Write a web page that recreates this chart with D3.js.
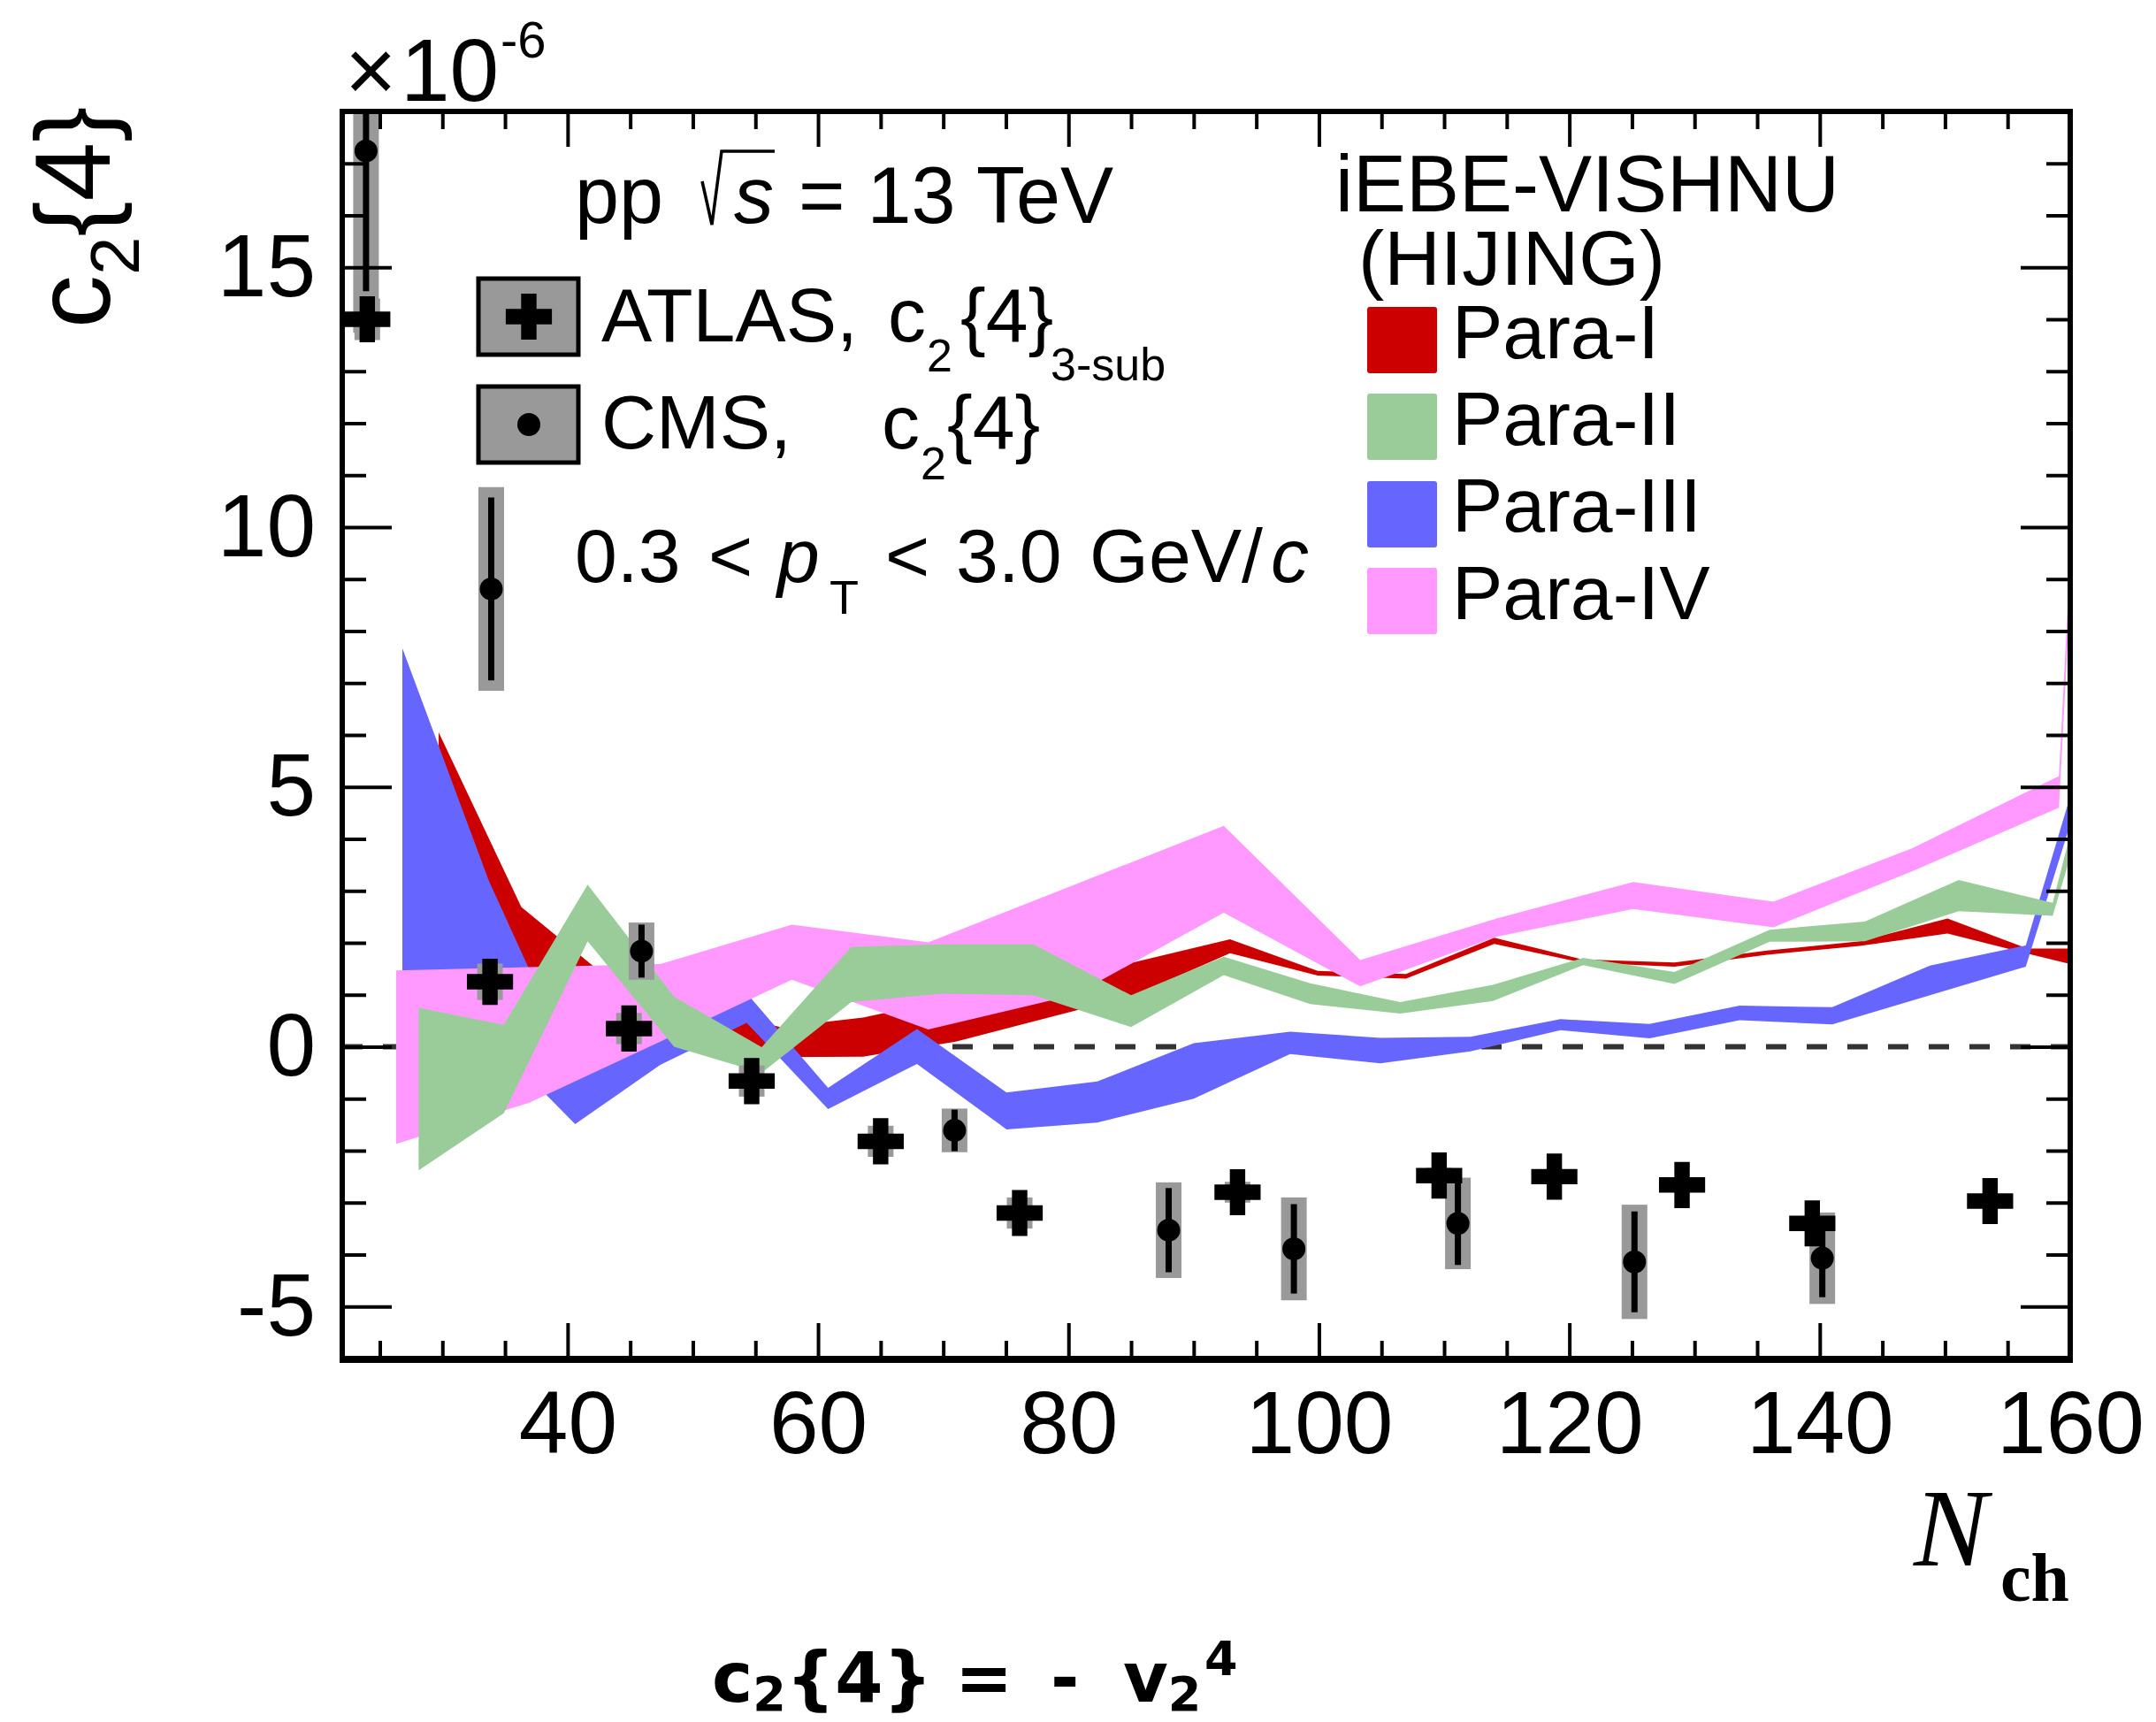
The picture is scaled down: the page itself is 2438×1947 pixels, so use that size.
<!DOCTYPE html>
<html><head><meta charset="utf-8">
<script src="https://cdn.jsdelivr.net/npm/d3@7"></script>
<style>body{margin:0;background:#fff}</style>
</head><body>
<svg id="c" width="2438" height="1947"></svg>
<script>
// ---------------- data ----------------
const xMajorTicks = [40, 60, 80, 100, 120, 140, 160];
const yMajorTicks = [-5, 0, 5, 10, 15];

const bandNames = ["Para-I", "Para-II", "Para-III", "Para-IV"];
const bandColors = ["#cc0000", "#99cc99", "#6666ff", "#ff99ff"];

const para1N  = [29.7, 36.3, 42.0, 48.5, 54.0, 57.0, 63.6, 71.0, 78.2, 85.3, 92.9, 99.9, 106.95, 114.0, 121.0, 128.4, 135.8, 143.2, 150.2, 156.6, 160];
const para1Hi = [6.05, 2.69, 1.56, 1.0, 0.55, 0.38, 0.56, 0.95, 1.3, 1.63, 2.07, 1.46, 1.40, 2.10, 1.68, 1.62, 1.85, 2.03, 2.47, 1.89, 1.89];
const para1Lo = [4.8, 1.5, 1.0, 0.5, 0.1, -0.2, -0.19, 0.1, 0.55, 0.99, 1.80, 1.37, 1.31, 1.98, 1.62, 1.54, 1.77, 1.94, 2.18, 1.79, 1.59];

const para2N  = [28.1, 34.9, 41.6, 48.5, 55.5, 62.65, 69.9, 77.2, 85.0, 92.4, 99.3, 106.5, 113.9, 121.1, 128.4, 136.0, 143.6, 151.1, 158.6, 160];
const para2Hi = [0.75, 0.42, 3.12, 0.96, -0.01, 1.92, 1.97, 1.97, 0.99, 1.73, 1.22, 0.86, 1.19, 1.71, 1.44, 2.25, 2.41, 3.21, 2.77, 4.09];
const para2Lo = [-2.38, -1.28, 2.03, 0.0, -0.5, 0.86, 1.02, 0.99, 0.38, 1.38, 0.82, 0.64, 0.88, 1.57, 1.21, 2.02, 2.03, 2.61, 2.52, 3.65];

const para3N  = [26.8, 33.7, 40.6, 47.4, 54.3, 60.8, 67.9, 75.05, 82.3, 90.0, 97.7, 104.9, 112.1, 119.3, 126.4, 133.6, 141.0, 148.8, 156.45, 160];
const para3Hi = [7.67, 3.2, -0.45, 0.5, 1.03, -0.79, 0.34, -0.88, -0.67, 0.07, 0.29, 0.17, 0.19, 0.53, 0.44, 0.79, 0.76, 1.56, 1.95, 4.82];
const para3Lo = [1.2, 0.2, -1.49, -0.35, 0.46, -1.2, -0.33, -1.59, -1.46, -1.0, -0.14, -0.32, -0.09, 0.32, 0.16, 0.51, 0.43, 0.99, 1.54, 4.28];

const para4N  = [26.3, 36.9, 47.4, 57.9, 68.8, 80.5, 92.4, 103.3, 114.2, 125.1, 136.3, 147.4, 159.1, 161.0];
const para4Hi = [1.47, 1.53, 1.59, 2.35, 2.01, 3.12, 4.25, 1.67, 2.47, 3.17, 2.79, 3.82, 5.21, 14.1];
const para4Lo = [-1.87, -1.08, 0.1, 1.29, 0.33, 1.0, 2.58, 1.16, 2.12, 2.65, 2.30, 3.38, 4.60, 13.3];

const atlasN   = [24.0, 33.8, 44.9, 54.7, 65.0, 76.1, 93.5, 109.6, 118.8, 129.0, 139.4, 153.6];
const atlasV   = [14.0, 1.25, 0.35, -0.66, -1.82, -3.20, -2.80, -2.48, -2.50, -2.66, -3.40, -2.97];
const atlasSys = [0.4, 0.35, 0.3, 0.3, 0.3, 0.3, 0.2, 0.15, 0.1, 0.1, 0.12, 0.1];

const cmsN    = [23.9, 33.9, 45.9, 70.9, 88.0, 98.0, 111.1, 125.2, 140.2];
const cmsV    = [17.24, 8.81, 1.84, -1.61, -3.53, -3.89, -3.40, -4.14, -4.07];
const cmsStat = [2.7, 1.76, 0.51, 0.40, 0.81, 0.86, 0.80, 0.97, 0.75];
const cmsSys  = [3.5, 1.96, 0.55, 0.42, 0.92, 0.99, 0.88, 1.1, 0.88];

// ---------------- layout ----------------
const W = 2438, H = 1947;
const L = 387, R = 2341, T = 126, B = 1536;
const FONT = "'Liberation Sans', Arial, Helvetica, sans-serif";
const SERIF = "'Liberation Serif', 'Times New Roman', serif";

const x = d3.scaleLinear().domain([22, 160]).range([L, R]);
const y = d3.scaleLinear().domain([-6, 18]).range([B, T]);

const svg = d3.select("#c");
svg.append("rect").attr("width", W).attr("height", H).attr("fill", "#fff");
svg.append("clipPath").attr("id", "clip").append("rect")
  .attr("x", L).attr("y", T).attr("width", R - L).attr("height", B - T);

// zero dashed line
svg.append("line").attr("x1", L).attr("x2", R).attr("y1", y(0)).attr("y2", y(0))
  .attr("stroke", "#333").attr("stroke-width", 6).attr("stroke-dasharray", "23,23");

const plot = svg.append("g").attr("clip-path", "url(#clip)");

// bands
const bands = [
  {n: para1N, hi: para1Hi, lo: para1Lo, color: bandColors[0]},
  {n: para2N, hi: para2Hi, lo: para2Lo, color: bandColors[1]},
  {n: para3N, hi: para3Hi, lo: para3Lo, color: bandColors[2]},
  {n: para4N, hi: para4Hi, lo: para4Lo, color: bandColors[3]}
];
const area = d3.area().x(d => x(d[0])).y0(d => y(d[2])).y1(d => y(d[1]));
[0, 2, 3, 1].forEach(i => {
  const b = bands[i];
  const pts = b.n.map((n, k) => [n, b.hi[k], b.lo[k]]);
  plot.append("path").attr("d", area(pts)).attr("fill", b.color);
});

// data
const atlas = atlasN.map((n, i) => ({n, v: atlasV[i], sys: atlasSys[i]}));
const cms = cmsN.map((n, i) => ({n, v: cmsV[i], stat: cmsStat[i], sys: cmsSys[i]}));
const boxW = 29;
plot.selectAll(".csys").data(cms).enter().append("rect")
  .attr("x", d => x(d.n) - boxW / 2).attr("width", boxW)
  .attr("y", d => y(d.v + d.sys)).attr("height", d => y(d.v - d.sys) - y(d.v + d.sys))
  .attr("fill", "#999");
plot.selectAll(".asys").data(atlas).enter().append("rect")
  .attr("x", d => x(d.n) - boxW / 2).attr("width", boxW)
  .attr("y", d => y(d.v + d.sys)).attr("height", d => y(d.v - d.sys) - y(d.v + d.sys))
  .attr("fill", "#999");
plot.selectAll(".cstat").data(cms).enter().append("line")
  .attr("x1", d => x(d.n)).attr("x2", d => x(d.n))
  .attr("y1", d => y(d.v + d.stat)).attr("y2", d => y(d.v - d.stat))
  .attr("stroke", "#000").attr("stroke-width", 7);
plot.selectAll(".cdot").data(cms).enter().append("circle")
  .attr("cx", d => x(d.n)).attr("cy", d => y(d.v)).attr("r", 13).attr("fill", "#000");
const crossPath = d3.symbol(d3.symbolCross, 5 * 17.4 * 17.4)();
plot.selectAll(".across").data(atlas).enter().append("path")
  .attr("d", crossPath).attr("transform", d => `translate(${x(d.n)},${y(d.v)})`)
  .attr("fill", "#000");

// axes
const yMinor = d3.range(-6, 19, 1).filter(v => !yMajorTicks.includes(v));
const xMinor = d3.range(25, 160, 5).filter(v => !xMajorTicks.includes(v));
function styleAxis(g) {
  g.select(".domain").remove();
  g.selectAll(".tick line").attr("stroke", "#000").attr("stroke-width", 4);
  g.selectAll("text").attr("font-family", FONT).attr("font-size", 100).attr("fill", "#000");
}
svg.append("g").attr("transform", `translate(${L},0)`)
  .call(d3.axisLeft(y).tickValues(yMajorTicks).tickSize(-56).tickPadding(30).tickFormat(d => String(d)))
  .call(styleAxis);
svg.append("g").attr("transform", `translate(${L},0)`)
  .call(d3.axisLeft(y).tickValues(yMinor).tickSize(-27).tickFormat(""))
  .call(styleAxis);
svg.append("g").attr("transform", `translate(${R},0)`)
  .call(d3.axisRight(y).tickValues(yMajorTicks).tickSize(-56).tickFormat(""))
  .call(styleAxis);
svg.append("g").attr("transform", `translate(${R},0)`)
  .call(d3.axisRight(y).tickValues(yMinor).tickSize(-27).tickFormat(""))
  .call(styleAxis);
svg.append("g").attr("transform", `translate(0,${B})`)
  .call(d3.axisBottom(x).tickValues(xMajorTicks).tickSize(-40).tickPadding(36).tickFormat(d => String(d)))
  .call(styleAxis);
svg.append("g").attr("transform", `translate(0,${B})`)
  .call(d3.axisBottom(x).tickValues(xMinor).tickSize(-20).tickFormat(""))
  .call(styleAxis);
svg.append("g").attr("transform", `translate(0,${T})`)
  .call(d3.axisTop(x).tickValues(xMajorTicks).tickSize(-40).tickFormat(""))
  .call(styleAxis);
svg.append("g").attr("transform", `translate(0,${T})`)
  .call(d3.axisTop(x).tickValues(xMinor).tickSize(-20).tickFormat(""))
  .call(styleAxis);

// frame
svg.append("rect").attr("x", L).attr("y", T).attr("width", R - L).attr("height", B - T)
  .attr("fill", "none").attr("stroke", "#000").attr("stroke-width", 6);
svg.append("line").attr("x1", L - 3).attr("x2", R + 3).attr("y1", B + 1).attr("y2", B + 1)
  .attr("stroke", "#000").attr("stroke-width", 8);

// ---------------- texts ----------------
function txt(xp, yp, s, size, opts = {}) {
  const t = svg.append("text").attr("x", xp).attr("y", yp).attr("font-family", opts.family || FONT)
    .attr("font-size", size).attr("fill", "#000").text(s);
  if (opts.italic) t.attr("font-style", "italic");
  if (opts.bold) t.attr("font-weight", "bold");
  if (opts.anchor) t.attr("text-anchor", opts.anchor);
  return t;
}
// x10^-6
txt(390, 114, "×", 100);
txt(453, 114, "10", 100);
txt(566, 65, "-6", 58);

// y title
const yt = svg.append("text").attr("transform", "translate(124,371) rotate(-90)")
  .attr("font-family", FONT).attr("font-size", 120).attr("fill", "#000");
yt.append("tspan").text("c");
yt.append("tspan").attr("font-size", 78).attr("dy", 33).text("2");
yt.append("tspan").attr("dy", -33).text("{4}");

// x title
txt(2164, 1770, "N", 125, {family: SERIF, italic: true});
txt(2262, 1810, "ch", 78, {family: SERIF, bold: true});

// pp sqrt(s)
txt(650, 252, "pp", 90);
svg.append("path").attr("d", "M794,205 L805,254 L816,171 L876,171")
  .attr("fill", "none").attr("stroke", "#000").attr("stroke-width", 3.5);
txt(830, 252, "s", 90, {italic: true});
txt(903, 252, "= 13 TeV", 90);

// ATLAS legend
svg.append("rect").attr("x", 541).attr("y", 315).attr("width", 113).attr("height", 86)
  .attr("fill", "#999").attr("stroke", "#000").attr("stroke-width", 5);
svg.append("path").attr("d", crossPath).attr("transform", "translate(598,358)").attr("fill", "#000");
txt(680, 386, "ATLAS,", 86);
txt(1004, 386, "c", 86);
txt(1048, 420, "2", 52);
txt(1086, 386, "{4}", 86);
txt(1188, 430, "3-sub", 52);

// CMS legend
svg.append("rect").attr("x", 541).attr("y", 437).attr("width", 113).attr("height", 86)
  .attr("fill", "#999").attr("stroke", "#000").attr("stroke-width", 5);
svg.append("circle").attr("cx", 598).attr("cy", 480).attr("r", 13).attr("fill", "#000");
txt(680, 507, "CMS,", 86);
txt(997, 507, "c", 86);
txt(1041, 542, "2", 52);
txt(1071, 507, "{4}", 86);

// pT range
txt(650, 658, "0.3", 86);
txt(801, 658, "<", 86);
txt(879, 658, "p", 86, {italic: true});
txt(938, 694, "T", 54);
txt(1001, 658, "<", 86);
txt(1081, 658, "3.0", 86);
txt(1232, 658, "GeV/", 86);
txt(1437, 658, "c", 86, {italic: true});

// model legend
txt(1510, 239, "iEBE-VISHNU", 90);
txt(1536, 322, "(HIJING)", 88);
const legY = [347, 445, 544, 642];
const legBase = [405, 503, 601, 700];
bandNames.forEach((nm, i) => {
  svg.append("rect").attr("x", 1546).attr("y", legY[i]).attr("width", 79).attr("height", 75)
    .attr("rx", 3).attr("fill", bandColors[i]);
  txt(1642, legBase[i], nm, 86);
});

// bottom formula
const fy = 1924;
const fSize = 78, fSmall = 54;
const f = svg.append("text").attr("y", fy)
  .attr("font-family", "'DejaVu Sans', sans-serif").attr("font-weight", "bold")
  .attr("font-size", fSize).attr("fill", "#000");
f.append("tspan").attr("x", 805).text("c");
f.append("tspan").attr("font-size", fSmall).attr("y", fy + 10).text("2");
f.append("tspan").attr("y", fy).text("{4}");
f.append("tspan").attr("x", 1080).text("=");
f.append("tspan").attr("x", 1188).text("-");
f.append("tspan").attr("x", 1270).text("v");
f.append("tspan").attr("font-size", fSmall).attr("y", fy + 10).text("2");
f.append("tspan").attr("font-size", fSmall).attr("x", 1362).attr("y", fy - 30).text("4");
</script>
</body></html>
